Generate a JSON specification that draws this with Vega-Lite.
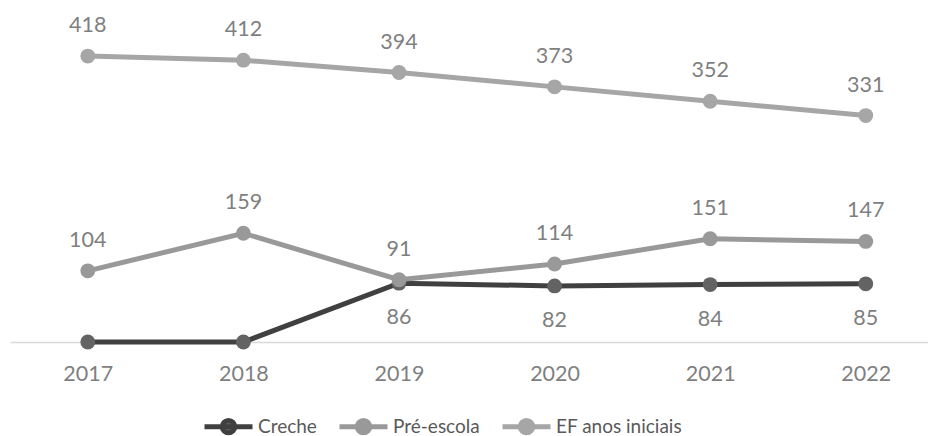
{
  "$schema": "https://vega.github.io/schema/vega-lite/v6.json",
  "width": 918,
  "height": 342,
  "autosize": {"type": "none"},
  "padding": {"left": 10, "top": 0, "right": 0, "bottom": 94},
  "background": "white",
  "config": {"view": {"stroke": null}, "font": "Lato"},
  "data": {
    "values": [
      {"ano": 2017, "serie": "Creche", "valor": 0},
      {"ano": 2018, "serie": "Creche", "valor": 0},
      {"ano": 2019, "serie": "Creche", "valor": 86},
      {"ano": 2020, "serie": "Creche", "valor": 82},
      {"ano": 2021, "serie": "Creche", "valor": 84},
      {"ano": 2022, "serie": "Creche", "valor": 85},
      {"ano": 2017, "serie": "Pré-escola", "valor": 104},
      {"ano": 2018, "serie": "Pré-escola", "valor": 159},
      {"ano": 2019, "serie": "Pré-escola", "valor": 91},
      {"ano": 2020, "serie": "Pré-escola", "valor": 114},
      {"ano": 2021, "serie": "Pré-escola", "valor": 151},
      {"ano": 2022, "serie": "Pré-escola", "valor": 147},
      {"ano": 2017, "serie": "EF anos iniciais", "valor": 418},
      {"ano": 2018, "serie": "EF anos iniciais", "valor": 412},
      {"ano": 2019, "serie": "EF anos iniciais", "valor": 394},
      {"ano": 2020, "serie": "EF anos iniciais", "valor": 373},
      {"ano": 2021, "serie": "EF anos iniciais", "valor": 352},
      {"ano": 2022, "serie": "EF anos iniciais", "valor": 331}
    ]
  },
  "encoding": {
    "x": {
      "field": "ano",
      "type": "quantitative",
      "scale": {"domain": [2016.5, 2022.4], "nice": false},
      "axis": {
        "values": [2017, 2018, 2019, 2020, 2021, 2022],
        "format": "d",
        "title": null,
        "grid": false,
        "ticks": false,
        "domainColor": "#d9d9d9",
        "domainWidth": 1.5,
        "labelFontSize": 21.5,
        "labelColor": "#7f7f7f",
        "labelPadding": 21
      }
    },
    "y": {
      "field": "valor",
      "type": "quantitative",
      "scale": {"domain": [0, 500], "nice": false},
      "axis": null
    }
  },
  "layer": [
    {
      "mark": {"type": "line", "strokeWidth": 5},
      "encoding": {
        "stroke": {
          "field": "serie",
          "type": "nominal",
          "scale": {
            "domain": ["Creche", "Pré-escola", "EF anos iniciais"],
            "range": ["#404040", "#999999", "#a6a6a6"]
          },
          "legend": {
            "title": null,
            "orient": "none",
            "legendX": 204,
            "legendY": 412,
            "direction": "horizontal",
            "symbolType": "M-2,0L2,0M-0.52,0A0.52,0.52,0,1,1,0.52,0A0.52,0.52,0,1,1,-0.52,0Z",
            "symbolSize": 576,
            "symbolStrokeWidth": 5,
            "labelFontSize": 19,
            "labelColor": "#595959",
            "labelOffset": 15,
            "columnPadding": 12,
            "encode": {
              "symbols": {"update": {"fill": {"scale": "fill", "field": "value"}, "fillOpacity": {"value": 1}}}
            }
          }
        }
      }
    },
    {
      "mark": {"type": "point", "filled": true, "size": 220, "opacity": 1, "strokeWidth": 0},
      "encoding": {
        "fill": {
          "field": "serie",
          "type": "nominal",
          "scale": {
            "domain": ["Creche", "Pré-escola", "EF anos iniciais"],
            "range": ["#636363", "#999999", "#a6a6a6"]
          },
          "legend": null
        }
      }
    },
    {
      "transform": [{"filter": "datum.serie != 'Creche'"}],
      "mark": {"type": "text", "dy": -30, "fontSize": 21.5, "color": "#7f7f7f", "baseline": "middle"},
      "encoding": {"text": {"field": "valor", "type": "quantitative"}}
    },
    {
      "transform": [{"filter": "datum.serie == 'Creche' && datum.valor > 0"}],
      "mark": {"type": "text", "dy": 35, "fontSize": 21.5, "color": "#7f7f7f", "baseline": "middle"},
      "encoding": {"text": {"field": "valor", "type": "quantitative"}}
    }
  ]
}
